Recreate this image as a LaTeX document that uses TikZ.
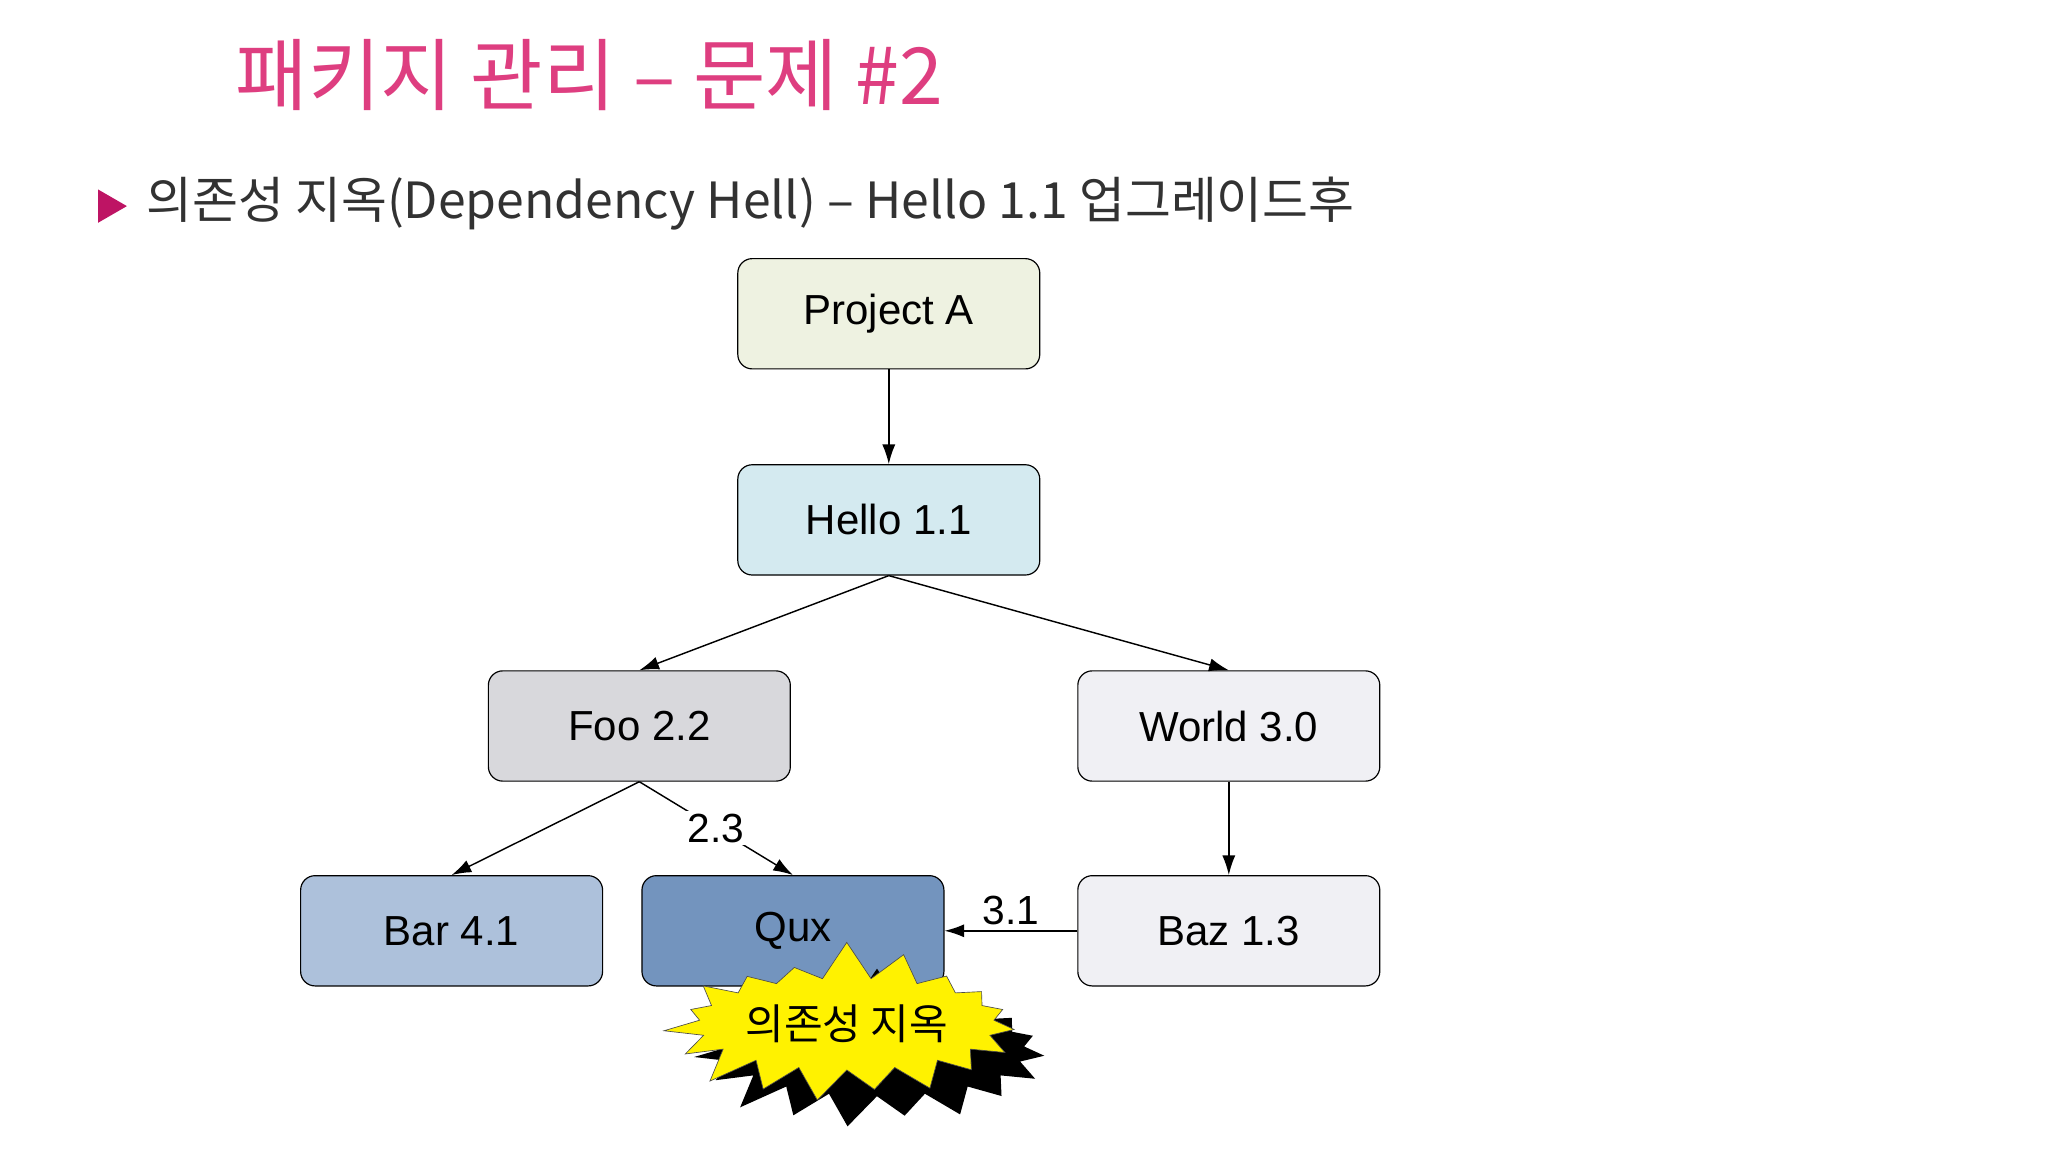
\documentclass[tikz,border=0pt]{standalone}
\usepackage{fontspec}
\setmainfont{Liberation Sans}
\newfontfamily\kr{Noto Sans CJK KR}
\usetikzlibrary{arrows.meta,shapes.symbols,shapes.geometric}
\definecolor{titlepink}{RGB}{222,62,128}
\definecolor{bulletc}{RGB}{190,20,100}
\definecolor{cproj}{RGB}{238,242,225}
\definecolor{chello}{RGB}{212,234,240}
\definecolor{cfoo}{RGB}{216,216,220}
\definecolor{cworld}{RGB}{240,240,244}
\definecolor{cbar}{RGB}{173,193,219}
\definecolor{cqux}{RGB}{115,148,190}
\definecolor{subtxt}{RGB}{50,50,50}
\tikzset{
 pkg/.style={draw=black, line width=0.9pt, rounded corners=11pt, minimum width=230pt, minimum height=84pt, inner sep=0pt, font=\fontsize{32}{36}\selectfont},
 dep/.style={-{Latex[length=15pt,width=10pt]}, line width=1.1pt},
 lbl/.style={fill=white, inner sep=2pt, font=\fontsize{31}{34}\selectfont},
 burst/.style={starburst, starburst points=19, starburst point height=30pt, random starburst=7, minimum width=285pt, minimum height=130pt, inner sep=0pt}
}
\begin{document}
\begin{tikzpicture}[x=1pt,y=-1pt]
\useasboundingbox[fill=white] (0,0) rectangle (1560,877.5);
\node[text=titlepink, anchor=west, font=\kr\fontsize{60}{66}\selectfont] (title) at (176,57) {패키지 관리 – 문제 \#2};
\node[fill=bulletc, isosceles triangle, isosceles triangle apex angle=60, minimum width=24pt, minimum height=22pt, inner sep=0pt] (bul) at (82,157) {};
\node[text=subtxt, anchor=west, font=\kr\fontsize{38}{44}\selectfont] (sub) at (108,155) {의존성 지옥(Dependency Hell) – Hello 1.1 업그레이드후};

\node[pkg, fill=cproj] (proj) at (677,239) {Project A};
\node[pkg, fill=chello] (hello) at (677,396) {Hello 1.1};
\node[pkg, fill=cfoo] (foo) at (487,553) {Foo 2.2};
\node[pkg, fill=cworld] (world) at (936,553) {World 3.0};
\node[pkg, fill=cbar] (bar) at (344,709) {Bar 4.1};
\node[pkg, fill=cqux] (qux) at (604,709) {Qux};
\node[pkg, fill=cworld] (baz) at (936,709) {Baz 1.3};

\draw[dep] (proj.south) -- (hello.north);
\draw[dep] (hello.south) -- (foo.north);
\draw[dep] (hello.south) -- (world.north);
\draw[dep] (foo.south) -- (bar.north);
\draw[dep] (foo.south) -- node[lbl, pos=0.5] (l23) {2.3} (qux.north);
\draw[dep] (world.south) -- (baz.north);
\draw[dep] (baz.west) -- node[above, inner sep=4pt, font=\fontsize{31}{34}\selectfont] (l31) {3.1} (qux.east);

\node[burst, fill=black] (shadow) at (668,800) {};
\node[burst, fill=yellow, draw=black!70, line width=0.5pt] (hell) at (645,780) {};
\node[font=\kr\fontsize{32}{36}\selectfont] (helltxt) at (hell.center) {의존성 지옥};
\end{tikzpicture}
\end{document}
